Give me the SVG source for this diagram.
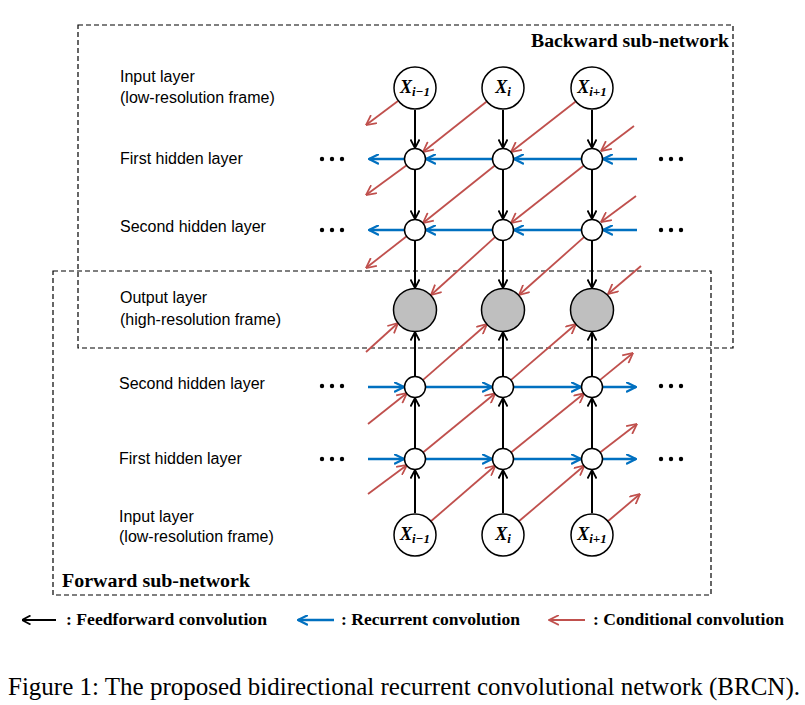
<svg xmlns="http://www.w3.org/2000/svg" width="805" height="705" viewBox="0 0 805 705">
<style>
.lbl{font-family:"Liberation Sans",Arial,sans-serif;font-size:16px;fill:#000}
.ttl{font-family:"Liberation Serif","Times New Roman",serif;font-weight:bold;fill:#000}
.cap{font-family:"Liberation Serif","Times New Roman",serif;font-size:25px;fill:#000}
.xl{font-family:"Liberation Serif","Times New Roman",serif;font-weight:bold;font-style:italic;font-size:18px;fill:#000}
.box{fill:none;stroke:#000;stroke-width:1.2;stroke-dasharray:5 3}
.sm{fill:#fff;stroke:#000;stroke-width:1.5}
.out{fill:#bfbfbf;stroke:#000;stroke-width:1.5}
.ff{stroke:#000;stroke-width:2;fill:none;marker-end:url(#ak)}
.rc{stroke:#0070c0;stroke-width:2.5;fill:none;marker-end:url(#ab)}
.cc{stroke:#c0504d;stroke-width:1.8;fill:none;marker-end:url(#ar)}
.dot{fill:#000}
</style>
<defs>
<marker id="ak" viewBox="0 0 10 10" refX="9.5" refY="5" markerWidth="10" markerHeight="10" markerUnits="userSpaceOnUse" orient="auto"><path d="M1,0.5 L9.5,5 L1,9.5" fill="none" stroke="#000" stroke-width="1.8"/></marker>
<marker id="ab" viewBox="0 0 10 10" refX="9.5" refY="5" markerWidth="11" markerHeight="11" markerUnits="userSpaceOnUse" orient="auto"><path d="M0.5,0.5 L9.5,5 L0.5,9.5" fill="none" stroke="#0070c0" stroke-width="1.9"/></marker>
<marker id="ar" viewBox="0 0 10 10" refX="9.5" refY="5" markerWidth="11" markerHeight="11" markerUnits="userSpaceOnUse" orient="auto"><path d="M0.5,0.5 L9.5,5 L0.5,9.5" fill="none" stroke="#c0504d" stroke-width="1.6"/></marker>
</defs>

<g id="boxes">
<rect class="box" x="78" y="25" width="655" height="323"/>
<rect class="box" x="53" y="271" width="658" height="324"/>
<text class="ttl" x="729" y="47" font-size="18" text-anchor="end" textLength="198" lengthAdjust="spacingAndGlyphs">Backward sub-network</text>
<text class="ttl" x="62" y="587" font-size="18" textLength="188" lengthAdjust="spacingAndGlyphs">Forward sub-network</text>
</g>

<g id="labels">
<text class="lbl" x="120" y="82">Input layer</text>
<text class="lbl" x="120" y="103">(low-resolution frame)</text>
<text class="lbl" x="120" y="164">First hidden layer</text>
<text class="lbl" x="120" y="232">Second hidden layer</text>
<text class="lbl" x="120" y="303">Output layer</text>
<text class="lbl" x="120" y="325">(high-resolution frame)</text>
<text class="lbl" x="119" y="389">Second hidden layer</text>
<text class="lbl" x="119" y="464">First hidden layer</text>
<text class="lbl" x="119" y="522">Input layer</text>
<text class="lbl" x="119" y="542">(low-resolution frame)</text>
</g>

<g id="dots">
<circle class="dot" cx="322" cy="159" r="2.2"/><circle class="dot" cx="332" cy="159" r="2.2"/><circle class="dot" cx="342" cy="159" r="2.2"/>
<circle class="dot" cx="322" cy="230" r="2.2"/><circle class="dot" cx="332" cy="230" r="2.2"/><circle class="dot" cx="342" cy="230" r="2.2"/>
<circle class="dot" cx="661" cy="159" r="2.2"/><circle class="dot" cx="671" cy="159" r="2.2"/><circle class="dot" cx="681" cy="159" r="2.2"/>
<circle class="dot" cx="661" cy="230" r="2.2"/><circle class="dot" cx="671" cy="230" r="2.2"/><circle class="dot" cx="681" cy="230" r="2.2"/>
<circle class="dot" cx="322" cy="386" r="2.2"/><circle class="dot" cx="332" cy="386" r="2.2"/><circle class="dot" cx="342" cy="386" r="2.2"/>
<circle class="dot" cx="322" cy="459" r="2.2"/><circle class="dot" cx="332" cy="459" r="2.2"/><circle class="dot" cx="342" cy="459" r="2.2"/>
<circle class="dot" cx="661" cy="386" r="2.2"/><circle class="dot" cx="671" cy="386" r="2.2"/><circle class="dot" cx="681" cy="386" r="2.2"/>
<circle class="dot" cx="661" cy="459" r="2.2"/><circle class="dot" cx="671" cy="459" r="2.2"/><circle class="dot" cx="681" cy="459" r="2.2"/>
</g>

<g id="connectors">
<line class="ff" x1="415" y1="110" x2="415" y2="148"/><line class="ff" x1="503" y1="110" x2="503" y2="148"/><line class="ff" x1="592" y1="110" x2="592" y2="148"/>
<line class="ff" x1="415" y1="170" x2="415" y2="219"/><line class="ff" x1="503" y1="170" x2="503" y2="219"/><line class="ff" x1="592" y1="170" x2="592" y2="219"/>
<line class="ff" x1="415" y1="241" x2="415" y2="288"/><line class="ff" x1="503" y1="241" x2="503" y2="288"/><line class="ff" x1="592" y1="241" x2="592" y2="288"/>
<line class="ff" x1="415" y1="513" x2="415" y2="470"/><line class="ff" x1="503" y1="513" x2="503" y2="470"/><line class="ff" x1="592" y1="513" x2="592" y2="470"/>
<line class="ff" x1="415" y1="448" x2="415" y2="398"/><line class="ff" x1="503" y1="448" x2="503" y2="398"/><line class="ff" x1="592" y1="448" x2="592" y2="398"/>
<line class="ff" x1="415" y1="376" x2="415" y2="332"/><line class="ff" x1="503" y1="376" x2="503" y2="332"/><line class="ff" x1="592" y1="376" x2="592" y2="332"/>
<line class="rc" x1="637" y1="159" x2="603" y2="159"/><line class="rc" x1="581" y1="159" x2="514" y2="159"/><line class="rc" x1="492" y1="159" x2="426" y2="159"/><line class="rc" x1="404" y1="159" x2="369" y2="159"/>
<line class="rc" x1="637" y1="230" x2="603" y2="230"/><line class="rc" x1="581" y1="230" x2="514" y2="230"/><line class="rc" x1="492" y1="230" x2="426" y2="230"/><line class="rc" x1="404" y1="230" x2="369" y2="230"/>
<line class="rc" x1="368" y1="387" x2="404" y2="387"/><line class="rc" x1="426" y1="387" x2="492" y2="387"/><line class="rc" x1="514" y1="387" x2="581" y2="387"/><line class="rc" x1="603" y1="387" x2="636" y2="387"/>
<line class="rc" x1="368" y1="459" x2="404" y2="459"/><line class="rc" x1="426" y1="459" x2="492" y2="459"/><line class="rc" x1="514" y1="459" x2="581" y2="459"/><line class="rc" x1="603" y1="459" x2="636" y2="459"/>
<line class="cc" x1="398" y1="101" x2="366" y2="125"/>
<line class="cc" x1="486.7" y1="101.5" x2="423" y2="152"/>
<line class="cc" x1="575.7" y1="101.5" x2="511" y2="152"/>
<line class="cc" x1="634" y1="126" x2="601" y2="151"/>
<line class="cc" x1="407" y1="165" x2="366" y2="195"/>
<line class="cc" x1="495.2" y1="165.3" x2="423" y2="223"/>
<line class="cc" x1="584.2" y1="165.3" x2="511" y2="223"/>
<line class="cc" x1="636" y1="196" x2="601" y2="222"/>
<line class="cc" x1="407" y1="236" x2="366" y2="268"/>
<line class="cc" x1="495.6" y1="236.7" x2="431" y2="295"/>
<line class="cc" x1="584.6" y1="236.7" x2="519" y2="295"/>
<line class="cc" x1="641" y1="266" x2="608" y2="294"/>
<line class="cc" x1="366" y1="352" x2="398" y2="323"/>
<line class="cc" x1="422.5" y1="380.4" x2="487" y2="324"/>
<line class="cc" x1="510.5" y1="380.4" x2="576" y2="324"/>
<line class="cc" x1="599.5" y1="380.4" x2="633" y2="353"/>
<line class="cc" x1="368" y1="424" x2="407" y2="393"/>
<line class="cc" x1="422.7" y1="452.7" x2="495.3" y2="393.3"/>
<line class="cc" x1="510.7" y1="452.7" x2="584.3" y2="393.3"/>
<line class="cc" x1="599.7" y1="452.7" x2="637" y2="424"/>
<line class="cc" x1="368" y1="494" x2="407" y2="465"/>
<line class="cc" x1="430.9" y1="521.3" x2="495.4" y2="465.5"/>
<line class="cc" x1="518.9" y1="521.3" x2="584.4" y2="465.5"/>
<line class="cc" x1="607.9" y1="521.3" x2="640" y2="494"/>
</g>

<g id="backward-nodes">
<g id="bx1"><circle class="sm" cx="415" cy="88" r="21"/><text class="xl" x="415" y="93" text-anchor="middle">X<tspan font-size="13" dy="3">i−1</tspan></text></g>
<g id="bx2"><circle class="sm" cx="503" cy="88" r="21"/><text class="xl" x="503" y="93" text-anchor="middle">X<tspan font-size="13" dy="3">i</tspan></text></g>
<g id="bx3"><circle class="sm" cx="592" cy="88" r="21"/><text class="xl" x="592" y="93" text-anchor="middle">X<tspan font-size="13" dy="3">i+1</tspan></text></g>
<g id="bh11"><circle class="sm" cx="415" cy="159" r="10.5"/></g>
<g id="bh12"><circle class="sm" cx="503" cy="159" r="10.5"/></g>
<g id="bh13"><circle class="sm" cx="592" cy="159" r="10.5"/></g>
<g id="bh21"><circle class="sm" cx="415" cy="230" r="10.5"/></g>
<g id="bh22"><circle class="sm" cx="503" cy="230" r="10.5"/></g>
<g id="bh23"><circle class="sm" cx="592" cy="230" r="10.5"/></g>
</g>
<g id="output-nodes">
<g id="o1"><circle class="out" cx="415" cy="310" r="21.5"/></g>
<g id="o2"><circle class="out" cx="503" cy="310" r="21.5"/></g>
<g id="o3"><circle class="out" cx="592" cy="310" r="21.5"/></g>
</g>
<g id="forward-nodes">
<g id="fh21"><circle class="sm" cx="415" cy="387" r="10.5"/></g>
<g id="fh22"><circle class="sm" cx="503" cy="387" r="10.5"/></g>
<g id="fh23"><circle class="sm" cx="592" cy="387" r="10.5"/></g>
<g id="fh11"><circle class="sm" cx="415" cy="459" r="10.5"/></g>
<g id="fh12"><circle class="sm" cx="503" cy="459" r="10.5"/></g>
<g id="fh13"><circle class="sm" cx="592" cy="459" r="10.5"/></g>
<g id="fx1"><circle class="sm" cx="415" cy="535" r="21"/><text class="xl" x="415" y="540" text-anchor="middle">X<tspan font-size="13" dy="3">i−1</tspan></text></g>
<g id="fx2"><circle class="sm" cx="503" cy="535" r="21"/><text class="xl" x="503" y="540" text-anchor="middle">X<tspan font-size="13" dy="3">i</tspan></text></g>
<g id="fx3"><circle class="sm" cx="592" cy="535" r="21"/><text class="xl" x="592" y="540" text-anchor="middle">X<tspan font-size="13" dy="3">i+1</tspan></text></g>
</g>

<g id="legend">
<line class="ff" x1="56" y1="620" x2="22" y2="620"/>
<text class="ttl" x="66" y="625" font-size="17" textLength="201" lengthAdjust="spacingAndGlyphs">: Feedforward convolution</text>
<line class="rc" x1="334" y1="620" x2="298" y2="620"/>
<text class="ttl" x="341" y="625" font-size="17" textLength="179" lengthAdjust="spacingAndGlyphs">: Recurrent convolution</text>
<line class="cc" x1="585" y1="620" x2="549" y2="620"/>
<text class="ttl" x="593" y="625" font-size="17" textLength="191" lengthAdjust="spacingAndGlyphs">: Conditional convolution</text>
</g>

<text class="cap" x="8" y="695" textLength="792" lengthAdjust="spacingAndGlyphs">Figure 1: The proposed bidirectional recurrent convolutional network (BRCN).</text>
</svg>
